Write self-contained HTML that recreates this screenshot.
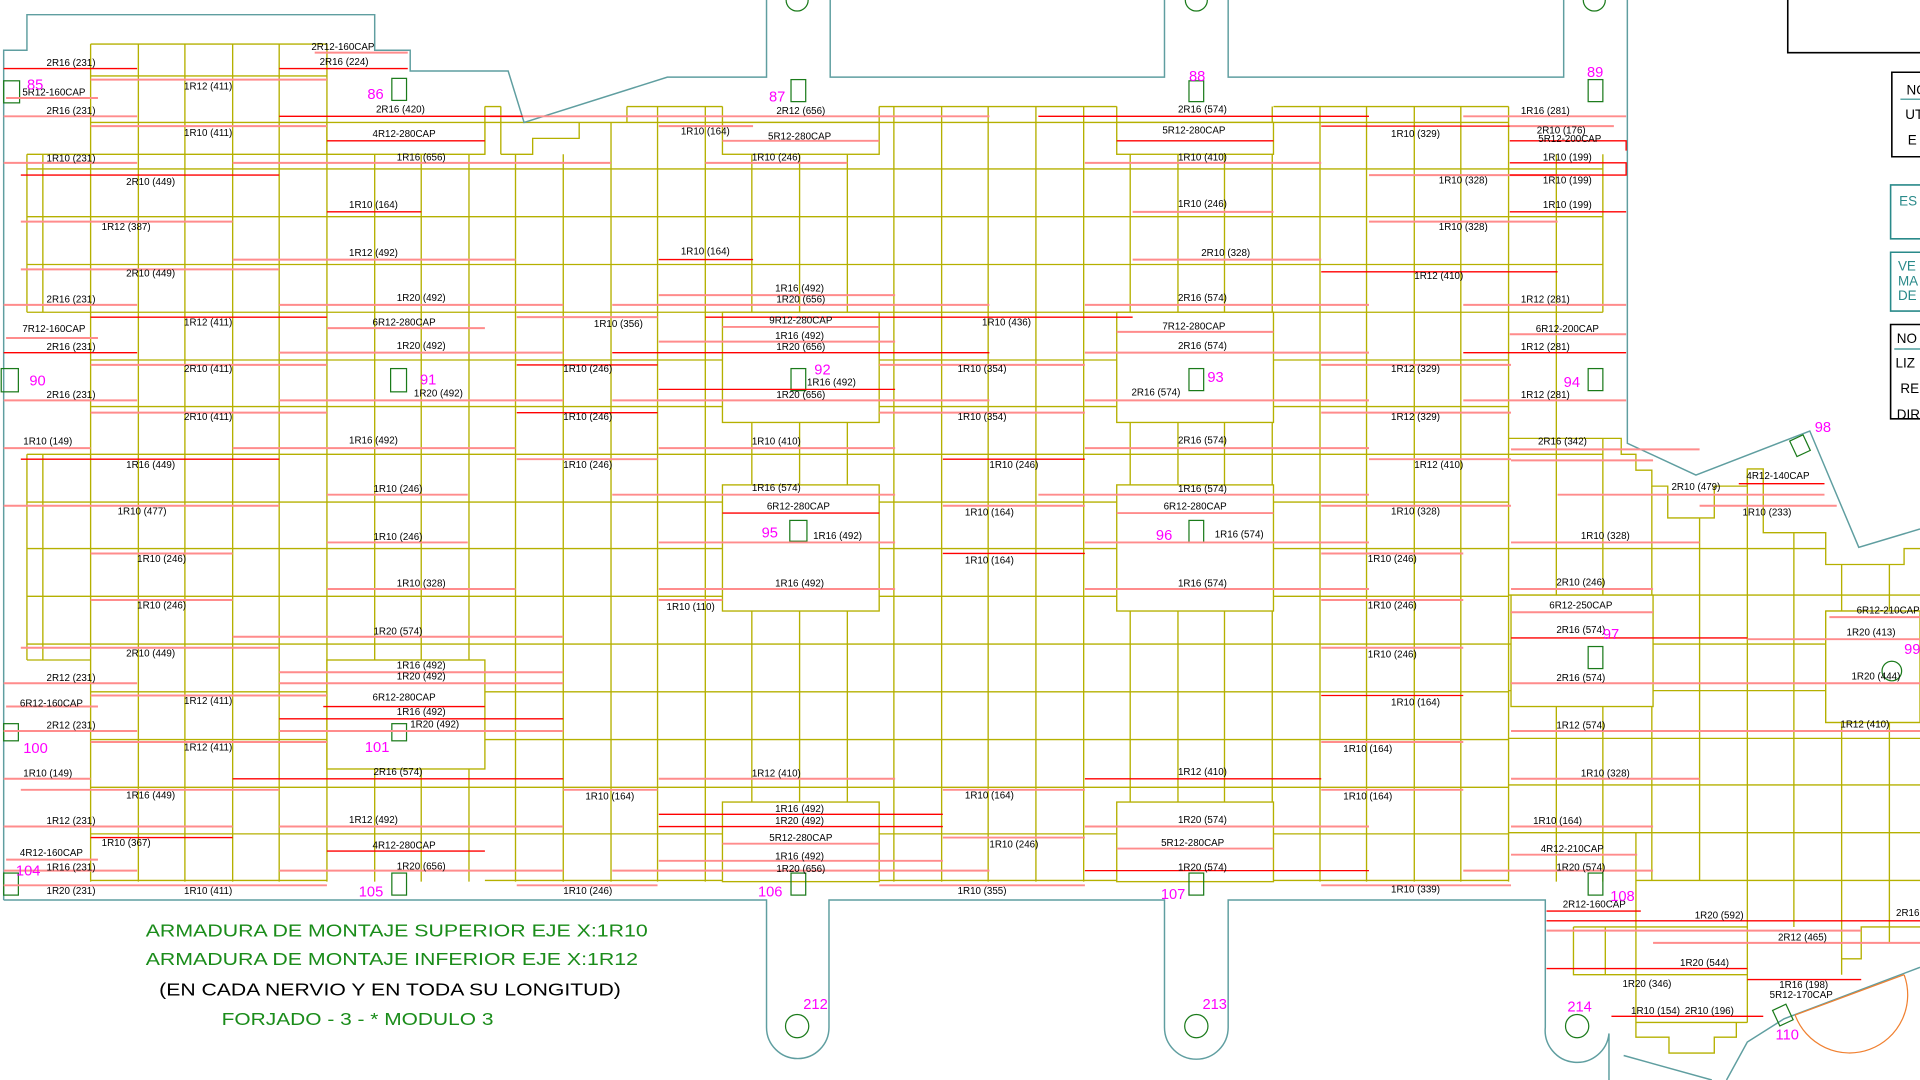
<!DOCTYPE html>
<html><head><meta charset="utf-8"><style>
html,body{margin:0;padding:0;background:#fff;width:1920px;height:1080px;overflow:hidden}
svg{display:block}
</style></head><body>
<svg width="1920" height="1080" viewBox="0 0 1568 882" preserveAspectRatio="none" xmlns="http://www.w3.org/2000/svg">
<rect width="1568" height="882" fill="#fff"/>
<!-- yellow grid -->
<g stroke="#b5b000" stroke-width="1.1" fill="none">
<path d="M74 36V720M113 36V720M151 36V720M190 36V720M228 36V720M267 36V720"/>
<path d="M306 126V720M344 126V720M383 126V720M421 126V720M460 126V720M499 100V720"/>
<path d="M537 87V720M576 87V720M614 126V720M653 126V720M692 126V720"/>
<path d="M730 87V720M769 87V720M807 87V720M846 87V720M885 87V720"/>
<path d="M923 126V720M962 126V720M1000 126V720"/>
<path d="M1039 87V720M1078 87V720M1116 87V720M1155 87V720M1193 87V720M1232 87V720"/>
<path d="M1271 126V720M1309 126V255M1309 358V720"/>
<path d="M22 126V255M35 126V255M22 371V539M35 371V539"/>
<path d="M396 87V126M409 87V126M590 87V100M718 87V100M912 87V100"/>
<path d="M74 36H267M74 62H267M74 100H267M396 100H1232M396 87H409M512 87H590M718 87H912M1040 87H1232"/>
<path d="M22 126H396M409 126H435V113H473V100M512 100V87"/>
<path d="M22 138H1309M22 177H1309M22 216H1309M22 255H1309"/>
<path d="M74 294H1232M74 332H1232"/>
<path d="M22 371H1232M22 410H1232M22 448H1232M22 487H1232M22 526H1232M22 539H74"/>
<path d="M74 565H1232M74 604H1232M74 643H1232M74 681H1232M74 719H267M396 719H1232"/>
<!-- right stepped region -->
<path d="M1232 358H1324V371H1336V384H1349V397H1362V423H1400V397H1427V383H1440V435H1491V461H1555V448H1568"/>
<path d="M1232 371H1309M1349 397V719M1388 423V719M1427 383V835M1465 435V757M1504 461V796M1543 461V770"/>
<path d="M1232 448H1491M1232 486H1568M1232 526H1491M1232 564H1491M1232 603H1568M1232 641H1568M1232 680H1568M1336 719H1568M1336 680V835"/>
<path d="M1491 499H1568M1491 499V590H1568"/>
<path d="M1285 757H1427M1285 757V796H1427M1336 835H1427M1336 835V847H1363V860H1400V847H1418V835M1504 783H1520V757H1568M1311 757V796"/>
</g>
<!-- white boxes -->
<g stroke="#b5b000" stroke-width="1.1" fill="#fff">
<rect x="267" y="100" width="129" height="26"/>
<rect x="590" y="100" width="128" height="26"/>
<rect x="912" y="100" width="128" height="26"/>
<rect x="590" y="255" width="128" height="90"/>
<rect x="912" y="255" width="128" height="90"/>
<rect x="590" y="396" width="128" height="103"/>
<rect x="912" y="396" width="128" height="103"/>
<rect x="267" y="539" width="129" height="89"/>
<rect x="590" y="655" width="128" height="65"/>
<rect x="912" y="655" width="128" height="65"/>
<rect x="1234" y="486" width="116" height="91"/>
<rect x="1491" y="499" width="77" height="91"/>
</g>
<!-- teal outline -->
<g stroke="#5f9ea0" stroke-width="1.2" fill="none">
<path d="M3 735V41H22V12H306V41H335V58H415L428 100L545 63H626V0"/>
<path d="M678 0V63H951V0M1003 0V63H1277V0M1329 0V362L1385 388L1478 352L1518 447L1568 432"/>
<path d="M3 735H626V839A25.5 25.5 0 0 0 677 839V735H951V839A25.5 25.5 0 0 0 1003 839V735H1262V839A26 26 0 0 0 1314 844V882"/>
<path d="M1326 862L1398 882M1410 882L1427 851L1457 832L1568 790"/>
</g>
<path d="M1466 829L1555 796" stroke="#f08030" fill="none"/>
<path d="M1466 829A45 45 0 0 0 1555 796" stroke="#f08030" fill="none"/>
<!-- piles -->
<g stroke="#1a7a1a" stroke-width="1" fill="none">
<circle cx="651" cy="0" r="9"/><circle cx="977" cy="0" r="9"/><circle cx="1302" cy="0" r="9"/>
<circle cx="651" cy="838" r="9.5"/><circle cx="977" cy="838" r="9.5"/><circle cx="1288" cy="838" r="9.5"/>
<circle cx="1545" cy="548" r="8"/>
<rect x="3" y="66" width="13" height="18"/><rect x="320" y="64" width="12" height="18"/>
<rect x="646" y="65" width="12" height="18"/><rect x="971" y="66" width="12" height="17"/>
<rect x="1297" y="65" width="12" height="18"/><rect x="1" y="301" width="14" height="19"/>
<rect x="319" y="301" width="13" height="19"/><rect x="646" y="301" width="12" height="18"/>
<rect x="971" y="301" width="12" height="18"/><rect x="1297" y="301" width="12" height="18"/>
<rect x="645" y="425" width="14" height="17"/><rect x="971" y="425" width="12" height="18"/>
<rect x="1297" y="528" width="12" height="18"/><rect x="3" y="591" width="12" height="14"/>
<rect x="320" y="591" width="12" height="14"/><rect x="3" y="713" width="12" height="18"/>
<rect x="320" y="713" width="12" height="18"/><rect x="646" y="713" width="12" height="18"/>
<rect x="971" y="713" width="12" height="18"/><rect x="1297" y="713" width="12" height="18"/>
<rect x="1464" y="357" width="12" height="14" transform="rotate(-25 1470 364)"/>
<rect x="1450" y="822" width="12" height="14" transform="rotate(-25 1456 829)"/>
</g>
<!-- pink bars -->
<g stroke="#ff8c8c" stroke-width="1.6" fill="none">
<path d="M257 43H333M74 65H267M5 80H80M3 95H112M400 95H808M1195 95H1328M74 103H267M538 103H615M1233 103H1318"/>
<path d="M590 115H718M3 133H112M190 133H499M576 133H692M886 133H1079M1118 143H1272M925 173H1040M17 181H190M1118 181H1272"/>
<path d="M190 212H421M925 212H1079M17 220H228M538 241H731M3 249H112M228 249H460M500 249H808M886 249H1118M1195 249H1328"/>
<path d="M422 259H537M5 276H80M267 268H396M590 267H718M912 271H1040M1233 273H1328M538 279H731M228 288H460M886 288H1118"/>
<path d="M74 298H267M718 298H886M1079 298H1234M3 327H112M228 327H460M500 327H808M886 327H1118M1195 327H1328"/>
<path d="M74 337H267M718 337H886M1079 337H1234M3 366H74M190 366H421M538 366H731M886 366H1118M1234 367H1388M422 375H537M1118 375H1234M1234 376H1350"/>
<path d="M267 404H382M500 404H731M848 404H1118M1272 404H1490M3 413H228M770 413H886M912 419H1040M1079 413H1234M1388 413H1500"/>
<path d="M267 443H382M538 443H731M886 443H1118M1234 443H1388M74 452H190M1079 452H1195M267 481H421M538 481H731M886 481H1118M1234 481H1350"/>
<path d="M74 490H190M538 490H590M1079 490H1195M1234 500H1350M1494 504H1568M190 520H460M1427 522H1568M17 529H228M1079 529H1195"/>
<path d="M228 549H460M3 558H112M228 558H460M1234 558H1568M74 568H267M5 577H80M3 597H112M228 597H460M1234 597H1568M74 606H267M1079 606H1195"/>
<path d="M3 636H74M538 636H731M1234 636H1388M17 645H228M460 645H537M770 645H886M1079 645H1195"/>
<path d="M3 675H190M228 675H460M886 675H1118M1234 675H1350M770 684H886M590 689H718M912 693H1040M5 702H80M1234 698H1337"/>
<path d="M538 703H770M3 711H112M228 711H460M500 711H808M1195 711H1350M3 723H112M74 723H267M422 723H537M718 723H886M1079 723H1234"/>
<path d="M1350 770H1568M1263 760H1520"/>
</g>
<!-- red bars -->
<g stroke="#ff0000" stroke-width="1.1" fill="none">
<path d="M3 56H112M228 56H333M228 95H427M848 95H1118M1079 103H1233M267 115H396M912 115H1040M1233 115H1328V123"/>
<path d="M1233 133H1328V143H1233M17 143H228M267 173H344M1233 173H1328M538 212H615M1079 222H1272"/>
<path d="M74 259H267M576 259H925M3 288H112M500 288H808M1195 288H1328M422 298H537M538 318H731M422 337H537"/>
<path d="M17 375H228M770 375H886M1420 395H1490M590 419H718M770 452H886M1234 521H1427M1079 568H1195M264 577H396M228 587H460"/>
<path d="M190 636H460M886 636H1079M538 665H770M538 675H770M74 684H190M267 695H396M886 711H1118"/>
<path d="M1263 744H1340M1263 752H1568M1263 791H1427M1427 800H1520M1316 830H1440"/>
</g>
<!-- labels -->
<g font-family="Liberation Sans, sans-serif" font-size="8" fill="#000" text-anchor="middle">
<text x="280" y="41">2R12-160CAP</text><text x="58" y="54">2R16 (231)</text><text x="281" y="53">2R16 (224)</text>
<text x="170" y="73">1R12 (411)</text><text x="44" y="78">5R12-160CAP</text><text x="58" y="93">2R16 (231)</text>
<text x="327" y="92">2R16 (420)</text><text x="654" y="93">2R12 (656)</text><text x="982" y="92">2R16 (574)</text>
<text x="1262" y="93">1R16 (281)</text><text x="170" y="111">1R10 (411)</text><text x="576" y="110">1R10 (164)</text>
<text x="1156" y="112">1R10 (329)</text><text x="1275" y="109">2R10 (176)</text><text x="330" y="112">4R12-280CAP</text>
<text x="653" y="114">5R12-280CAP</text><text x="975" y="109">5R12-280CAP</text><text x="1282" y="116">5R12-200CAP</text>
<text x="58" y="132">1R10 (231)</text><text x="344" y="131">1R16 (656)</text><text x="634" y="131">1R10 (246)</text>
<text x="982" y="131">1R10 (410)</text><text x="1280" y="131">1R10 (199)</text><text x="123" y="151">2R10 (449)</text>
<text x="1195" y="150">1R10 (328)</text><text x="1280" y="150">1R10 (199)</text><text x="305" y="170">1R10 (164)</text>
<text x="982" y="169">1R10 (246)</text><text x="1280" y="170">1R10 (199)</text><text x="103" y="188">1R12 (387)</text>
<text x="1195" y="188">1R10 (328)</text><text x="305" y="209">1R12 (492)</text><text x="576" y="208">1R10 (164)</text>
<text x="1001" y="209">2R10 (328)</text><text x="1175" y="228">1R12 (410)</text><text x="123" y="226">2R10 (449)</text>
<text x="653" y="238">1R16 (492)</text><text x="58" y="247">2R16 (231)</text><text x="344" y="246">1R20 (492)</text>
<text x="654" y="247">1R20 (656)</text><text x="982" y="246">2R16 (574)</text><text x="1262" y="247">1R12 (281)</text>
<text x="170" y="266">1R12 (411)</text><text x="505" y="267">1R10 (356)</text><text x="822" y="266">1R10 (436)</text>
<text x="654" y="264">9R12-280CAP</text><text x="44" y="271">7R12-160CAP</text><text x="330" y="266">6R12-280CAP</text>
<text x="975" y="269">7R12-280CAP</text><text x="1280" y="271">6R12-200CAP</text><text x="653" y="277">1R16 (492)</text>
<text x="58" y="286">2R16 (231)</text><text x="344" y="285">1R20 (492)</text><text x="654" y="286">1R20 (656)</text>
<text x="982" y="285">2R16 (574)</text><text x="1262" y="286">1R12 (281)</text><text x="170" y="304">2R10 (411)</text>
<text x="480" y="304">1R10 (246)</text><text x="802" y="304">1R10 (354)</text><text x="1156" y="304">1R12 (329)</text>
<text x="679" y="315">1R16 (492)</text><text x="58" y="325">2R16 (231)</text><text x="358" y="324">1R20 (492)</text>
<text x="654" y="325">1R20 (656)</text><text x="944" y="323">2R16 (574)</text><text x="1262" y="325">1R12 (281)</text>
<text x="170" y="343">2R10 (411)</text><text x="480" y="343">1R10 (246)</text><text x="802" y="343">1R10 (354)</text>
<text x="1156" y="343">1R12 (329)</text><text x="39" y="363">1R10 (149)</text><text x="305" y="362">1R16 (492)</text>
<text x="634" y="363">1R10 (410)</text><text x="982" y="362">2R16 (574)</text><text x="1276" y="363">2R16 (342)</text>
<text x="123" y="382">1R16 (449)</text><text x="480" y="382">1R10 (246)</text><text x="828" y="382">1R10 (246)</text>
<text x="1175" y="382">1R12 (410)</text><text x="325" y="402">1R10 (246)</text><text x="634" y="401">1R16 (574)</text>
<text x="982" y="402">1R16 (574)</text><text x="1385" y="400">2R10 (479)</text><text x="1452" y="391">4R12-140CAP</text>
<text x="116" y="420">1R10 (477)</text><text x="652" y="416">6R12-280CAP</text><text x="808" y="421">1R10 (164)</text>
<text x="976" y="416">6R12-280CAP</text><text x="1156" y="420">1R10 (328)</text><text x="1443" y="421">1R10 (233)</text>
<text x="325" y="441">1R10 (246)</text><text x="684" y="440">1R16 (492)</text><text x="1012" y="439">1R16 (574)</text>
<text x="1311" y="440">1R10 (328)</text><text x="132" y="459">1R10 (246)</text><text x="808" y="460">1R10 (164)</text>
<text x="1137" y="459">1R10 (246)</text><text x="344" y="479">1R10 (328)</text><text x="653" y="479">1R16 (492)</text>
<text x="982" y="479">1R16 (574)</text><text x="1291" y="478">2R10 (246)</text><text x="132" y="497">1R10 (246)</text>
<text x="564" y="498">1R10 (110)</text><text x="1137" y="497">1R10 (246)</text><text x="1291" y="497">6R12-250CAP</text>
<text x="1542" y="501">6R12-210CAP</text><text x="325" y="518">1R20 (574)</text><text x="1291" y="517">2R16 (574)</text>
<text x="1528" y="519">1R20 (413)</text><text x="123" y="536">2R10 (449)</text><text x="1137" y="537">1R10 (246)</text>
<text x="344" y="546">1R16 (492)</text><text x="58" y="556">2R12 (231)</text><text x="344" y="555">1R20 (492)</text>
<text x="1291" y="556">2R16 (574)</text><text x="1532" y="555">1R20 (444)</text><text x="170" y="575">1R12 (411)</text>
<text x="1156" y="576">1R10 (164)</text><text x="42" y="577">6R12-160CAP</text><text x="330" y="572">6R12-280CAP</text>
<text x="344" y="584">1R16 (492)</text><text x="58" y="595">2R12 (231)</text><text x="355" y="594">1R20 (492)</text>
<text x="1291" y="595">1R12 (574)</text><text x="1523" y="594">1R12 (410)</text><text x="170" y="613">1R12 (411)</text>
<text x="1117" y="614">1R10 (164)</text><text x="39" y="634">1R10 (149)</text><text x="325" y="633">2R16 (574)</text>
<text x="634" y="634">1R12 (410)</text><text x="982" y="633">1R12 (410)</text><text x="1311" y="634">1R10 (328)</text>
<text x="123" y="652">1R16 (449)</text><text x="498" y="653">1R10 (164)</text><text x="808" y="652">1R10 (164)</text>
<text x="1117" y="653">1R10 (164)</text><text x="653" y="663">1R16 (492)</text><text x="58" y="673">1R12 (231)</text>
<text x="305" y="672">1R12 (492)</text><text x="653" y="673">1R20 (492)</text><text x="982" y="672">1R20 (574)</text>
<text x="1272" y="673">1R10 (164)</text><text x="103" y="691">1R10 (367)</text><text x="828" y="692">1R10 (246)</text>
<text x="654" y="687">5R12-280CAP</text><text x="974" y="691">5R12-280CAP</text><text x="330" y="693">4R12-280CAP</text>
<text x="42" y="699">4R12-160CAP</text><text x="1284" y="696">4R12-210CAP</text><text x="653" y="702">1R16 (492)</text>
<text x="58" y="711">1R16 (231)</text><text x="344" y="710">1R20 (656)</text><text x="654" y="712">1R20 (656)</text>
<text x="982" y="711">1R20 (574)</text><text x="1291" y="711">1R20 (574)</text><text x="58" y="730">1R20 (231)</text>
<text x="170" y="730">1R10 (411)</text><text x="480" y="730">1R10 (246)</text><text x="802" y="730">1R10 (355)</text>
<text x="1156" y="729">1R10 (339)</text><text x="1302" y="741">2R12-160CAP</text><text x="1404" y="750">1R20 (592)</text>
<text x="1558" y="748">2R16</text><text x="1472" y="768">2R12 (465)</text><text x="1392" y="789">1R20 (544)</text>
<text x="1345" y="806">1R20 (346)</text><text x="1473" y="807">1R16 (198)</text><text x="1471" y="815">5R12-170CAP</text>
<text x="1352" y="828">1R10 (154)</text><text x="1396" y="828">2R10 (196)</text>
</g>
<!-- magenta numbers -->
<g font-family="Liberation Sans, sans-serif" font-size="12" fill="#ff00ff">
<text x="22" y="73">85</text><text x="300" y="81">86</text><text x="628" y="83">87</text><text x="971" y="66">88</text>
<text x="1296" y="63">89</text><text x="24" y="315">90</text><text x="343" y="314">91</text><text x="665" y="306">92</text>
<text x="986" y="312">93</text><text x="1277" y="316">94</text><text x="622" y="439">95</text><text x="944" y="441">96</text>
<text x="1309" y="522">97</text><text x="1482" y="353">98</text><text x="1555" y="534">99</text><text x="19" y="615">100</text>
<text x="298" y="614">101</text><text x="13" y="715">104</text><text x="293" y="732">105</text><text x="619" y="732">106</text>
<text x="948" y="734">107</text><text x="1315" y="736">108</text><text x="1450" y="849">110</text>
<text x="656" y="824">212</text><text x="982" y="824">213</text><text x="1280" y="826">214</text>
</g>
<!-- bottom-left notes -->
<g font-family="Liberation Sans, sans-serif" font-size="14.5">
<text x="119" y="765" fill="#1a8c1a" textLength="410" lengthAdjust="spacingAndGlyphs">ARMADURA DE MONTAJE SUPERIOR  EJE X:1R10</text>
<text x="119" y="788" fill="#1a8c1a" textLength="402" lengthAdjust="spacingAndGlyphs">ARMADURA DE MONTAJE INFERIOR  EJE X:1R12</text>
<text x="130" y="813" fill="#000" textLength="377" lengthAdjust="spacingAndGlyphs">(EN CADA NERVIO Y EN TODA SU LONGITUD)</text>
<text x="181" y="837" fill="#1a8c1a" textLength="222" lengthAdjust="spacingAndGlyphs">FORJADO - 3 - * MODULO 3</text>
</g>
<!-- right panel -->
<g fill="none" stroke-width="1.3">
<path d="M1460 0V43H1568" stroke="#000"/>
<path d="M1568 59H1545V128H1568" stroke="#000"/>
<path d="M1568 151H1544V195H1568" stroke="#2a8a8a"/>
<path d="M1568 206H1544V254H1568" stroke="#2a8a8a"/>
<path d="M1568 265H1544V342H1568" stroke="#000"/>
<path d="M1552 81H1568M1547 285H1568" stroke="#2a8a8a" stroke-width="1"/>
</g>
<g font-family="Liberation Sans, sans-serif" font-size="11">
<text x="1557" y="77" fill="#000">NO</text><text x="1556" y="97" fill="#000">UT</text><text x="1558" y="118" fill="#000">E</text>
<text x="1551" y="168" fill="#2a8a8a">ES</text>
<text x="1550" y="221" fill="#2a8a8a">VE</text><text x="1550" y="233" fill="#2a8a8a">MA</text><text x="1550" y="245" fill="#2a8a8a">DE</text>
<text x="1549" y="280" fill="#000">NO</text><text x="1548" y="300" fill="#000">LIZ</text><text x="1552" y="321" fill="#000">RE</text><text x="1549" y="342" fill="#000">DIR</text>
</g>
</svg>
</body></html>
